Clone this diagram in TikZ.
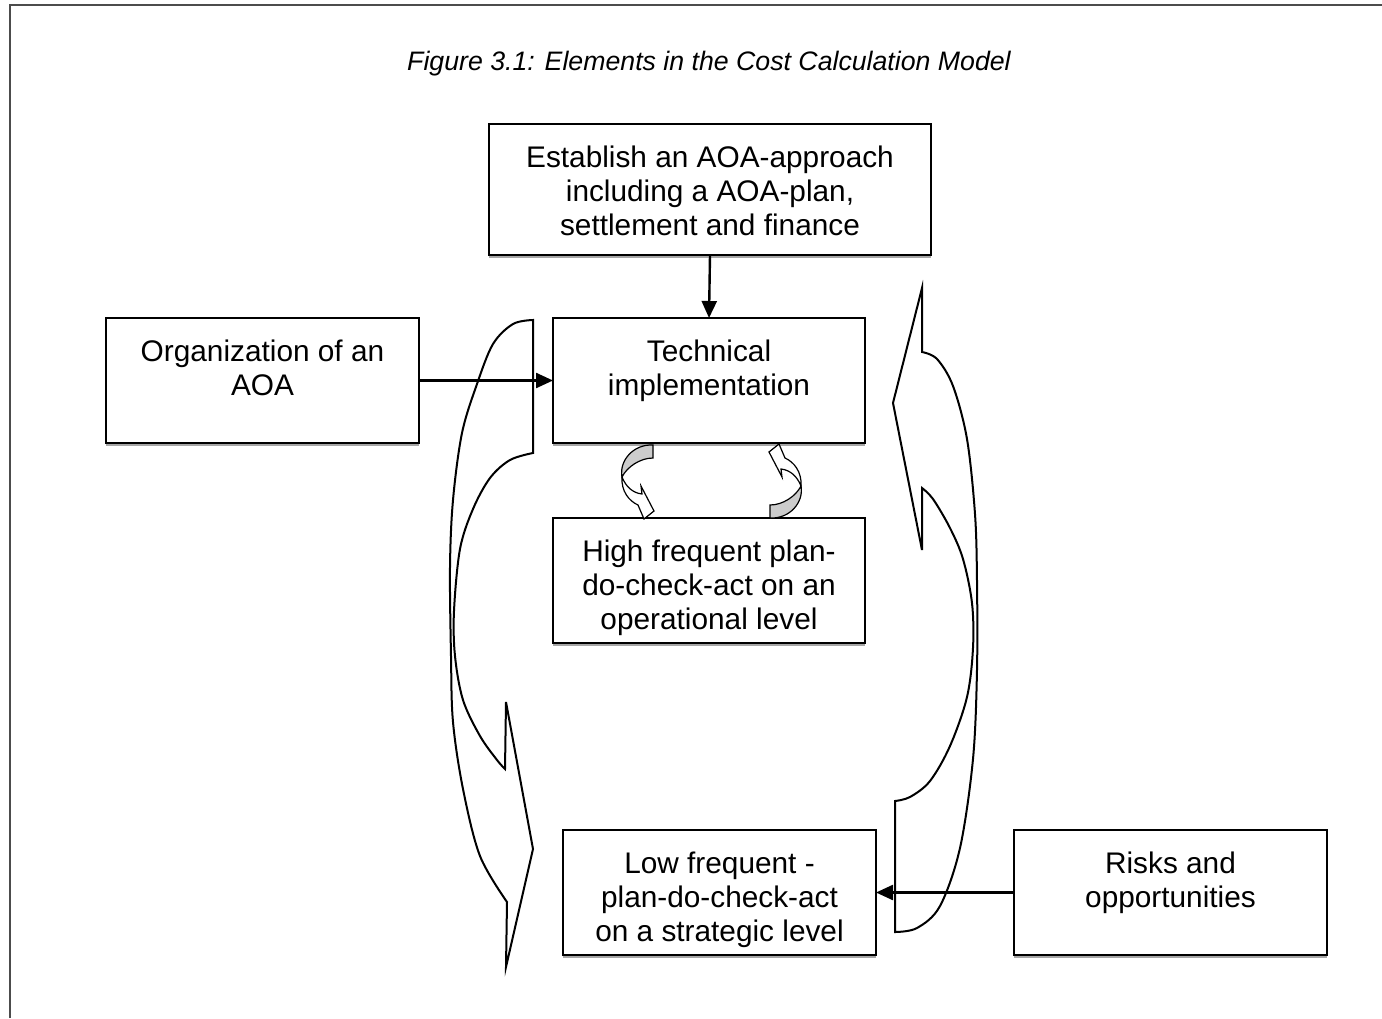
\documentclass[tikz,border=0pt]{standalone}
\usepackage{fontspec}
\setmainfont{Liberation Sans}
\usetikzlibrary{arrows.meta,shadows}
\newcommand\bxtext[3]{\parbox[c][#2][t]{#1}{\centering\fontsize{29.8}{34}\selectfont\rule{0pt}{43pt}#3\par}}
\begin{document}
\begin{tikzpicture}[x=1pt,y=-1pt,
  box/.style={draw, line width=2.3pt, fill=white, inner sep=0pt, outer sep=0pt,
    drop shadow={shadow xshift=0pt, shadow yshift=-3pt, fill=black!50, opacity=0.7}},
  conn/.style={line width=2.4pt, -{Triangle[length=17pt,width=15pt]}},
  bigarrow/.style={line width=2pt, line join=miter},
  cycarrow/.pic={
    \draw[line width=1.2pt, fill=black!20] (16,-36) -- (16,-23) .. controls (3,-23) and (-10,-14) .. (-15,-4)
      .. controls (-18,-20) and (-4,-37) .. cycle;
    \draw[line width=1.2pt, fill=white] (-15,-4) .. controls (-16,10) and (-8,20) .. (1,24)
      -- (7,38) -- (17,30) -- (4,5) -- (5,13) .. controls (-4,12) and (-11,6) .. cycle;
  }]
\useasboundingbox (0,0) rectangle (1382,1018);
% frame
\draw[line width=2.5pt, black!70] (10,1018) -- (10,5) -- (1382,5);
% title
\node[anchor=base] (title) at (709,70) {\fontsize{26.7}{30}\selectfont\itshape Figure 3.1: Elements in the Cost Calculation Model};
% boxes
\node[box] (est) at (710,189.5) {\bxtext{442pt}{131pt}{Establish an AOA-approach\\including a AOA-plan,\\settlement and finance}};
\node[box] (tech) at (709,380.5) {\bxtext{312pt}{125pt}{Technical\\implementation}};
\node[box] (org) at (262.5,380.5) {\bxtext{313pt}{125pt}{Organization of an\\AOA}};
\node[box] (high) at (709,580.5) {\bxtext{312pt}{125pt}{High frequent plan-\\do-check-act on an\\operational level}};
\node[box] (low) at (719.5,892.5) {\bxtext{313pt}{125pt}{Low frequent -\\plan-do-check-act\\on a strategic level}};
\node[box] (risk) at (1170.5,892.5) {\bxtext{313pt}{125pt}{Risks and\\opportunities}};
% connectors
\draw[conn] (est.south) -- (tech.north);
\draw[conn] (org.east) -- (tech.west);
\draw[conn] (risk.west) -- (low.east);
% small cyclic arrows
\pic at (637,481) {cycarrow};
\pic[rotate=180] at (786,482) {cycarrow};
% big left curved arrow
\draw[bigarrow] (533,453) -- (533,320) -- plot[smooth,tension=0.55] coordinates {(533,320) (513,324) (493,344) (477,384) (462,433) (453,500) (450,567) (451,656) (453,722) (463,789) (480,856) (507,902)}
  -- (506,967) -- (533,849) -- (506,702) -- (505,769)
  -- plot[smooth,tension=0.55] coordinates {(505,769) (497,760) (480,736) (463,700) (455,656) (454,611) (460,549) (473,509) (490,478) (510,460) (533,453)} -- cycle;
% big right curved arrow
\draw[bigarrow] (922,352) -- plot[smooth,tension=0.55] coordinates {(922,352) (937,359) (953,386) (967,439) (975,514) (977,581) (977,670) (973,759) (960,848) (940,906) (917,928) (895,932)}
  -- (895,801)
  -- plot[smooth,tension=0.55] coordinates {(895,801) (910,797) (930,781) (950,746) (967,697) (973,648) (972,603) (963,559) (950,528) (933,499) (922,488)}
  -- (922,550) -- (893,403) -- (922,288) -- cycle;
\end{tikzpicture}
\end{document}
